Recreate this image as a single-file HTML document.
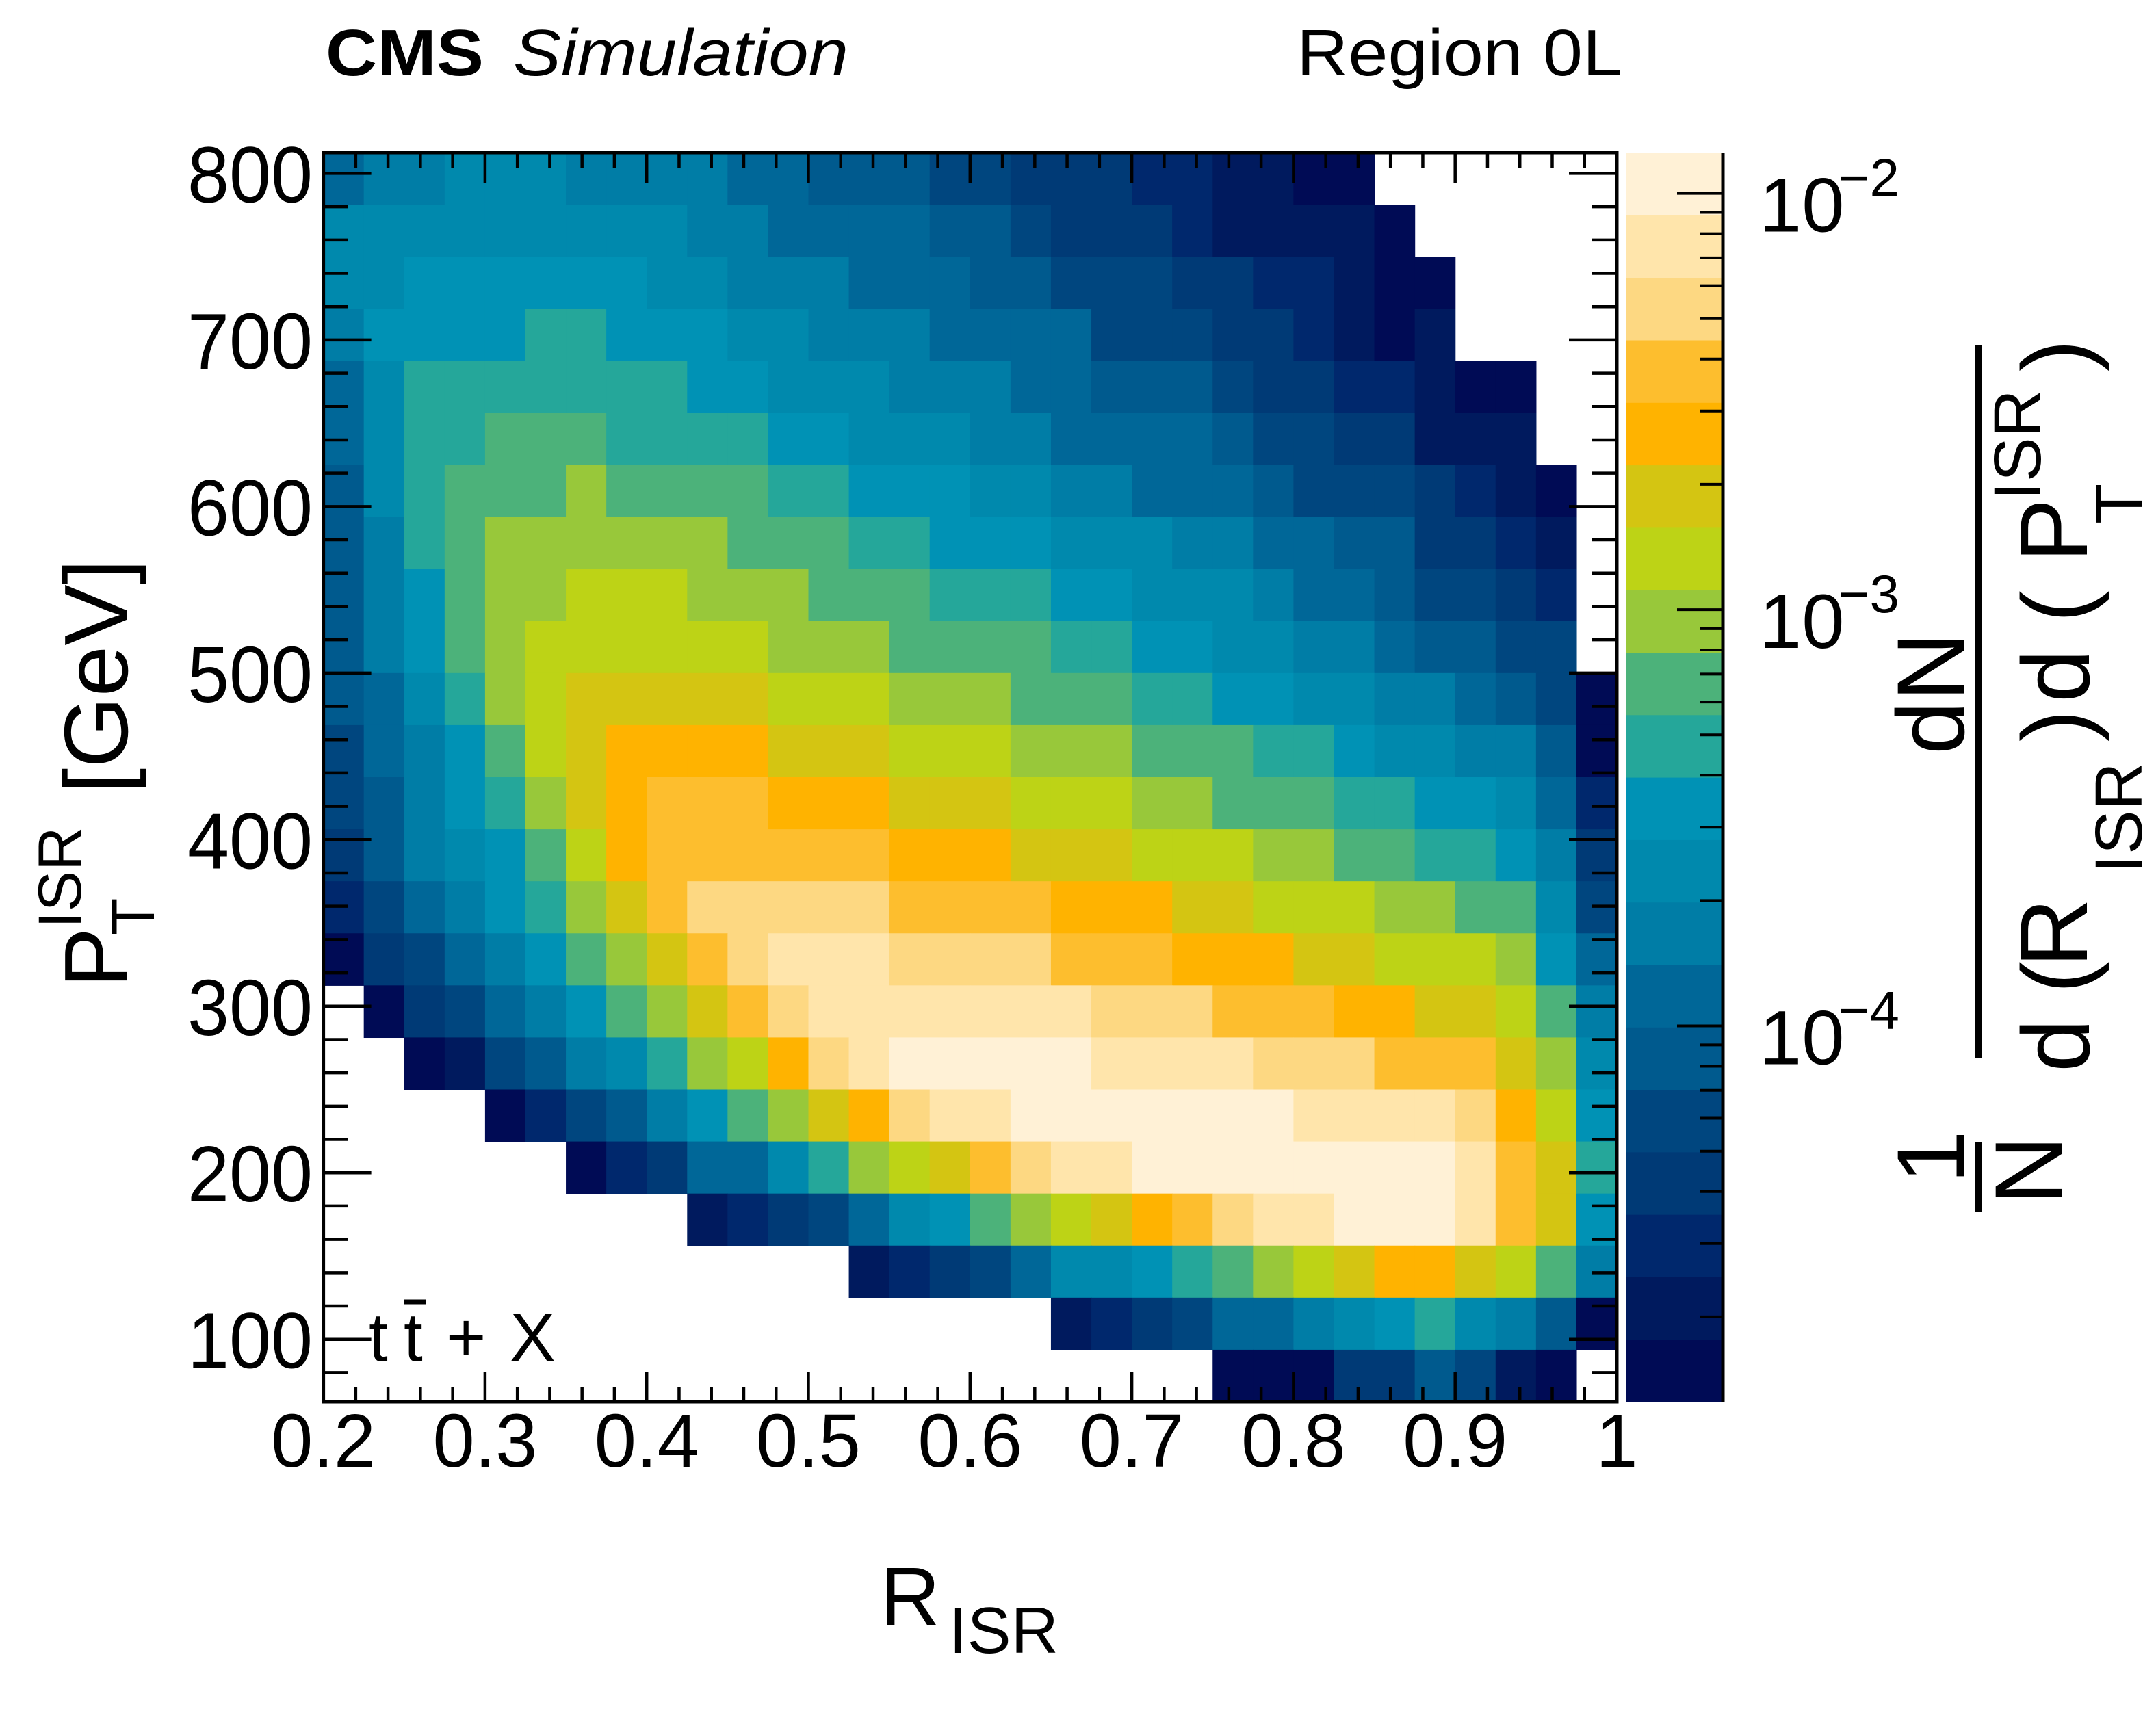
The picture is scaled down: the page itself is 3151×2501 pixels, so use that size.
<!DOCTYPE html>
<html><head><meta charset="utf-8"><style>
html,body{margin:0;padding:0;background:#fff;}
svg{display:block;font-family:"Liberation Sans",Arial,sans-serif;}
</style></head><body>
<svg id="chart" xmlns="http://www.w3.org/2000/svg" width="3151" height="2501" viewBox="0 0 3151 2501">
<rect x="0" y="0" width="3151" height="2501" fill="#fff"/>
<g id="cells"></g>
<g id="cbar"></g>
<g id="axes"></g>
<text x="476" y="110" font-size="96" font-weight="bold" textLength="231" lengthAdjust="spacingAndGlyphs">CMS</text>
<text x="750" y="110" font-size="96" font-style="italic" textLength="490" lengthAdjust="spacingAndGlyphs">Simulation</text>
<text x="1895" y="110" font-size="96" textLength="476" lengthAdjust="spacingAndGlyphs">Region 0L</text>
<g font-size="100">
<text x="539" y="1989">t</text><text x="590" y="1989">t</text>
<line x1="590" y1="1903" x2="622" y2="1903" stroke="#000" stroke-width="7"/>
<text x="652" y="1989">+</text><text x="745" y="1989">X</text>
</g>
<g>
<text x="1286" y="2376" font-size="122">R</text>
<text x="1387" y="2416" font-size="96" textLength="160" lengthAdjust="spacingAndGlyphs">ISR</text>
</g>
<g>
<text transform="translate(186,1444) rotate(-90)" font-size="132">P</text>
<text transform="translate(118,1357) rotate(-90)" font-size="89">ISR</text>
<text transform="translate(225,1367) rotate(-90)" font-size="89">T</text>
<text transform="translate(186,1160) rotate(-90)" font-size="132" textLength="343" lengthAdjust="spacingAndGlyphs">[GeV]</text>
</g>
<g>
<text transform="translate(2870,1730) rotate(-90)" font-size="140">1</text>
<rect x="2887" y="1670" width="9" height="101" fill="#000"/>
<text transform="translate(3013,1761) rotate(-90)" font-size="140">N</text>
<text transform="translate(2870,1103) rotate(-90)" font-size="140">dN</text>
<rect x="2887" y="504" width="9" height="1043" fill="#000"/>
<text transform="translate(3053,1567) rotate(-90)" font-size="140">d</text>
<text transform="translate(3053,1452) rotate(-90)" font-size="140">(</text>
<text transform="translate(3050,1414) rotate(-90)" font-size="140">R</text>
<text transform="translate(3130,1276) rotate(-90)" font-size="97">ISR</text>
<text transform="translate(3053,1084) rotate(-90)" font-size="140">)</text>
<text transform="translate(3053,1027) rotate(-90)" font-size="140">d</text>
<text transform="translate(3053,910) rotate(-90)" font-size="140">(</text>
<text transform="translate(3050,822) rotate(-90)" font-size="140">P</text>
<text transform="translate(2982,731) rotate(-90)" font-size="97">ISR</text>
<text transform="translate(3130,766) rotate(-90)" font-size="97">T</text>
<text transform="translate(3053,543) rotate(-90)" font-size="140">)</text>
</g>
</svg>
<script>
// ---- data ----
const xEdgesMin = 0.2, xEdgesMax = 1.0, nX = 32;
const yMin = 62.5, yMax = 812.5, nY = 24;
const valueUnit = 1e-5;
// rows listed from top (highest pT) to bottom, values in units of 1e-5; 0 = empty
const row00 = [12,17,17,24,24,24,17,17,17,17,12,12,8.4,8.4,8.4,5.9,5.9,4.2,4.2,4.2,3,3,2.1,2.1,1.5,1.5,0,0,0,0,0,0];
const row01 = [24,24,24,24,24,24,24,24,24,17,17,12,12,12,12,8.4,8.4,5.9,4.2,4.2,4.2,3,2.1,2.1,2.1,2.1,1.5,0,0,0,0,0];
const row02 = [24,24,33,33,33,33,33,33,24,24,17,17,17,12,12,12,8.4,8.4,5.9,5.9,5.9,4.2,4.2,3,3,2.1,1.5,1.5,0,0,0,0];
const row03 = [17,33,33,33,33,47,47,33,33,33,24,24,17,17,17,12,12,12,12,5.9,5.9,5.9,4.2,4.2,3,2.1,1.5,2.1,0,0,0,0];
const row04 = [12,24,47,47,47,47,47,47,47,33,33,24,24,24,17,17,17,12,12,8.4,8.4,8.4,5.9,4.2,4.2,3,3,2.1,1.5,1.5,0,0];
const row05 = [12,24,47,47,67,67,67,47,47,47,47,33,33,24,24,24,17,17,12,12,12,12,8.4,5.9,5.9,4.2,4.2,2.1,2.1,2.1,0,0];
const row06 = [8.4,24,47,67,67,67,94,67,67,67,67,47,47,33,33,33,24,24,17,17,12,12,12,8.4,5.9,5.9,5.9,4.2,3,2.1,1.5,0];
const row07 = [8.4,17,47,67,94,94,94,94,94,94,67,67,67,47,47,33,33,33,24,24,24,17,17,12,12,8.4,8.4,4.2,4.2,3,2.1,0];
const row08 = [8.4,17,33,67,94,94,130,130,130,94,94,94,67,67,67,47,47,47,33,33,24,24,24,17,12,12,8.4,5.9,5.9,4.2,3,0];
const row09 = [8.4,17,33,67,94,130,130,130,130,130,130,94,94,94,67,67,67,67,47,47,33,33,24,24,17,17,12,8.4,8.4,5.9,5.9,0];
const row10 = [8.4,12,24,47,94,130,190,190,190,190,190,130,130,130,94,94,94,67,67,67,47,47,33,33,24,24,17,17,12,8.4,5.9,1.5];
const row11 = [5.9,12,17,33,67,130,190,260,260,260,260,190,190,190,130,130,130,94,94,94,67,67,67,47,47,33,24,24,17,17,8.4,1.5];
const row12 = [5.9,8.4,17,33,47,94,190,260,370,370,370,260,260,260,190,190,190,130,130,130,94,94,67,67,67,47,47,33,33,24,12,3];
const row13 = [4.2,8.4,17,24,33,67,130,260,370,370,370,370,370,370,260,260,260,190,190,190,130,130,130,94,94,67,67,47,47,33,17,4.2];
const row14 = [3,5.9,12,17,33,47,94,190,370,530,530,530,530,530,370,370,370,370,260,260,260,190,190,130,130,130,94,94,67,67,24,5.9];
const row15 = [1.5,4.2,5.9,12,17,33,67,94,190,370,530,750,750,750,530,530,530,530,370,370,370,260,260,260,190,190,130,130,130,94,33,12];
const row16 = [0,1.5,4.2,5.9,12,17,33,67,94,190,370,530,750,750,750,750,750,750,750,530,530,530,370,370,370,260,260,190,190,130,67,17];
const row17 = [0,0,1.5,2.1,5.9,8.4,17,24,47,94,130,260,530,750,1050,1050,1050,1050,1050,750,750,750,750,530,530,530,370,370,370,190,94,24];
const row18 = [0,0,0,0,1.5,3,5.9,8.4,17,33,67,94,190,260,530,750,750,1050,1050,1050,1050,1050,1050,1050,750,750,750,750,530,260,130,33];
const row19 = [0,0,0,0,0,0,1.5,3,4.2,12,12,24,47,94,130,190,370,530,750,750,1050,1050,1050,1050,1050,1050,1050,1050,750,370,190,47];
const row20 = [0,0,0,0,0,0,0,0,0,2.1,3,4.2,5.9,12,24,33,67,94,130,190,260,370,530,750,750,1050,1050,1050,750,370,190,33];
const row21 = [0,0,0,0,0,0,0,0,0,0,0,0,0,2.1,3,4.2,5.9,12,24,24,33,47,67,94,130,190,260,260,190,130,67,17];
const row22 = [0,0,0,0,0,0,0,0,0,0,0,0,0,0,0,0,0,0,2.1,3,4.2,5.9,12,12,17,24,33,47,24,17,8.4,1.5];
const row23 = [0,0,0,0,0,0,0,0,0,0,0,0,0,0,0,0,0,0,0,0,0,0,1.5,1.5,1.5,4.2,4.2,8.4,5.9,2.1,1.5,0];
const rows = [row00,row01,row02,row03,row04,row05,row06,row07,row08,row09,row10,row11,row12,row13,row14,row15,row16,row17,row18,row19,row20,row21,row22,row23];
const xTickLabels = ["0.2","0.3","0.4","0.5","0.6","0.7","0.8","0.9","1"];
const yTickLabels = ["100","200","300","400","500","600","700","800"];
const zTickExps = [-2,-3,-4];
const palette = ['#000B55','#001A5E','#00286D','#003A76','#00467F','#005A8E','#006798','#007DA6','#0089AD','#0092B5','#25A79A','#4CB27A','#98C83A','#BDD316','#D4C512','#FFB300','#FDBE2E','#FDD882','#FFE5AB','#FFF1D6'];
const zLogMin = -4.903, zLogMax = -1.902;

// ---- geometry ----
const PL = 472.6, PR = 2363, PT = 223, PB = 2049;
const CBL = 2377, CBR = 2518;
const NS = "http://www.w3.org/2000/svg";
function X(v){ return PL + (v - 0.2) * (PR - PL) / 0.8; }
function Y(v){ return PB - (v - yMin) * (PB - PT) / (yMax - yMin); }
function Z(logv){ return PB - (logv - zLogMin) * (PB - PT) / (zLogMax - zLogMin); }
function colorOf(v){
  let k = Math.floor((Math.log10(v) - zLogMin) / (zLogMax - zLogMin) * palette.length);
  return palette[Math.max(0, Math.min(palette.length - 1, k))];
}
function mk(tag, attrs, parent){
  const e = document.createElementNS(NS, tag);
  for (const k in attrs) e.setAttribute(k, attrs[k]);
  parent.appendChild(e); return e;
}
const cells = document.getElementById('cells');
const dx = (xEdgesMax - xEdgesMin) / nX, dy = (yMax - yMin) / nY;
rows.forEach((row, r) => {
  const yHi = yMax - r * dy, yLo = yHi - dy;
  row.forEach((val, c) => {
    if (!val) return;
    const v = val * valueUnit;
    const x0 = X(xEdgesMin + c * dx), x1 = X(xEdgesMin + (c + 1) * dx);
    const el = mk('rect', {x: x0.toFixed(2), y: Y(yHi).toFixed(2), width: (x1 - x0 + 0.6).toFixed(2), height: (Y(yLo) - Y(yHi) + 0.6).toFixed(2), fill: colorOf(v)}, cells);
    
    
  });
});

// ---- color bar ----
const cb = document.getElementById('cbar');
palette.forEach((col, k) => {
  const l0 = zLogMin + k * (zLogMax - zLogMin) / palette.length;
  const l1 = zLogMin + (k + 1) * (zLogMax - zLogMin) / palette.length;
  const el = mk('rect', {x: CBL, y: Z(l1).toFixed(2), width: CBR - CBL, height: (Z(l0) - Z(l1) + 0.6).toFixed(2), fill: col}, cb);
  
  
});
mk('line', {x1: CBR, y1: PT, x2: CBR, y2: PB, stroke: '#000', 'stroke-width': 5}, cb);
for (let d = -5; d <= -2; d++) {
  for (let m = 1; m <= 9; m++) {
    const lv = d + Math.log10(m);
    if (lv < zLogMin || lv > zLogMax) continue;
    const yy = Z(lv), len = m === 1 ? 67 : 33;
    mk('line', {x1: CBR - len, y1: yy, x2: CBR, y2: yy, stroke: '#000', 'stroke-width': 4}, cb);
  }
}
zTickExps.forEach(e => {
  const yy = Z(e);
  const t = mk('text', {x: 2571, y: yy + 56, 'font-size': 112}, cb);
  t.textContent = '10';
  
  
  const s = mk('text', {x: 2687, y: yy + 4, 'font-size': 78}, cb);
  s.textContent = '\u2212' + (-e);
  
  
});

// ---- axes ----
const ax = document.getElementById('axes');
mk('rect', {x: PL, y: PT, width: PR - PL, height: PB - PT, fill: 'none', stroke: '#000', 'stroke-width': 5}, ax);
for (let i = 0; i <= 40; i++) {
  const v = 0.2 + i * 0.02, xx = X(v), len = (i % 5 === 0) ? 44 : 22;
  mk('line', {x1: xx, y1: PB, x2: xx, y2: PB - len, stroke: '#000', 'stroke-width': 4.5}, ax);
  mk('line', {x1: xx, y1: PT, x2: xx, y2: PT + len, stroke: '#000', 'stroke-width': 4.5}, ax);
}
for (let v = 80; v <= 800; v += 20) {
  const yy = Y(v), len = (v % 100 === 0) ? 70 : 36;
  mk('line', {x1: PL, y1: yy, x2: PL + len, y2: yy, stroke: '#000', 'stroke-width': 4.5}, ax);
  mk('line', {x1: PR, y1: yy, x2: PR - len, y2: yy, stroke: '#000', 'stroke-width': 4.5}, ax);
}
xTickLabels.forEach(lbl => {
  const t = mk('text', {x: X(parseFloat(lbl)), y: 2144, 'font-size': 110, 'text-anchor': 'middle'}, ax);
  t.textContent = lbl;
  
  
});
yTickLabels.forEach(lbl => {
  const t = mk('text', {x: 457, y: Y(parseFloat(lbl)) + 42, 'font-size': 116, 'text-anchor': 'end', textLength: 183, lengthAdjust: 'spacingAndGlyphs'}, ax);
  t.textContent = lbl;
  
  
});
</script>
</body></html>
